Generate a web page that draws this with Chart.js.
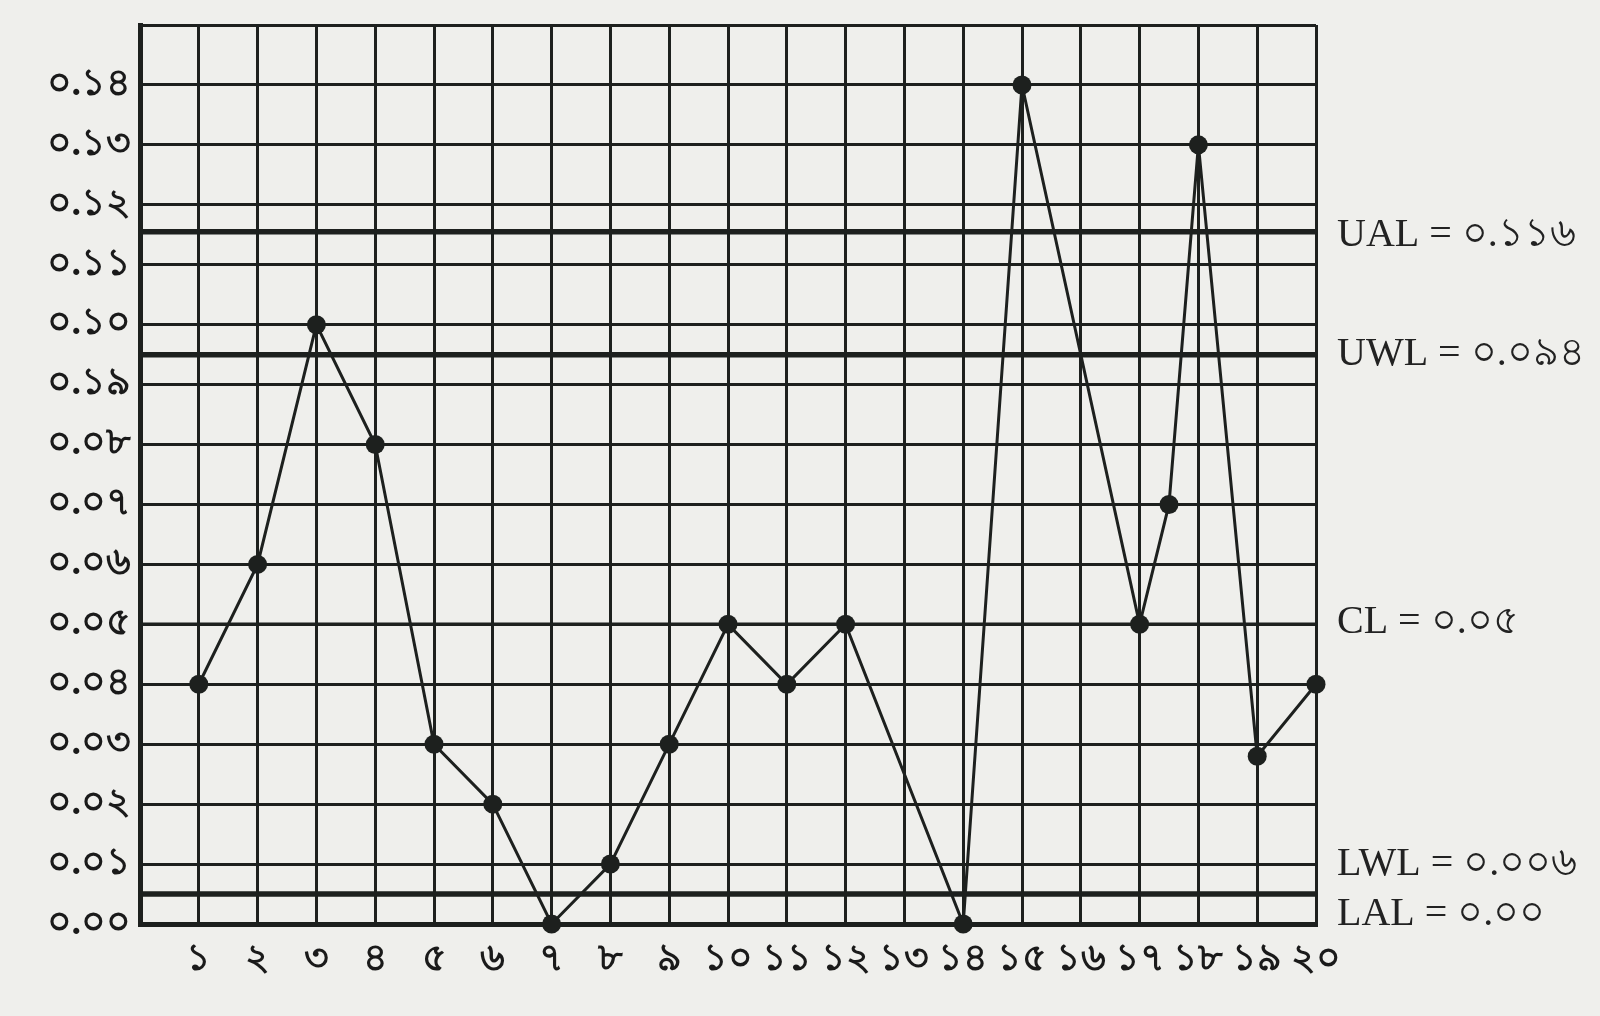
<!DOCTYPE html>
<html>
<head>
<meta charset="utf-8">
<script src="https://cdn.jsdelivr.net/npm/chart.js@4/dist/chart.umd.min.js"></script>
<style>
    html, body { margin: 0; padding: 0; background: #efefec; }
    #wrap { width: 1600px; height: 1016px; }
</style>
</head>
<body>
<div id="wrap"><canvas id="controlChart" width="1600" height="1016"></canvas></div>
<script>
"use strict";

// sample number (x) and fraction defective (y), as plotted
const sampleNo = [1, 2, 3, 4, 5, 6, 7, 8, 9, 10, 11, 12, 14, 15, 17, 17.5, 18, 19, 20];
const proportion = [0.04, 0.06, 0.10, 0.08, 0.03, 0.02, 0.00, 0.01, 0.03, 0.05, 0.04, 0.05, 0.00, 0.14, 0.05, 0.07, 0.13, 0.028, 0.04];

const xTickLabels = ["১", "২", "৩", "৪", "৫", "৬", "৭", "৮", "৯", "১০", "১১", "১২", "১৩", "১৪", "১৫", "১৬", "১৭", "১৮", "১৯", "২০"];
const yTickLabels = ["০.০০", "০.০১", "০.০২", "০.০৩", "০.০৪", "০.০৫", "০.০৬", "০.০৭", "০.০৮", "০.১৯", "০.১০", "০.১১", "০.১২", "০.১৩", "০.১৪"];

// control / warning limits
const limitNames = ["UAL", "UWL", "CL", "LWL", "LAL"];
const limitValues = [0.1155, 0.095, 0.05, 0.005, 0];
const limitText = ["০.১১৬", "০.০৯৪", "০.০৫", "০.০০৬", "০.০০"];

const ink = "#1d201e";
const xMin = 0;
const xMax = 20;

const limitLabels = {
    id: "limitLabels",
    afterDraw(chart) {
        const y = chart.scales.y;
        const ctx = chart.ctx;
        const nudge = { LWL: -30, LAL: -10, UAL: 4, CL: -2 };
        ctx.save();
        ctx.fillStyle = "#222";
        ctx.font = '40px "Liberation Serif", "DejaVu Serif", serif';
        ctx.textBaseline = "middle";
        ctx.textAlign = "left";
        limitNames.forEach((name, i) => {
            const py = y.getPixelForValue(limitValues[i]) + (nudge[name] || 0);
            ctx.fillText(`${name} = ${limitText[i]}`, chart.chartArea.right + 21, py);
        });
        ctx.restore();
    }
};

function buildLimitDatasets() {
    return limitNames.map((name, i) => ({
        label: name,
        data: [{ x: xMin, y: limitValues[i] }, { x: xMax, y: limitValues[i] }],
        borderColor: ink,
        borderWidth: name === "CL" || name === "LAL" ? 3.5 : 5.5,
        pointRadius: 0,
        order: 2
    }));
}

document.addEventListener("DOMContentLoaded", () => {
    const ctx = document.getElementById("controlChart");
    const tickFont = { size: 38, weight: "bold", family: '"Liberation Serif", serif' };

    new Chart(ctx, {
        type: "line",
        data: {
            datasets: [
                {
                    label: "p",
                    data: sampleNo.map((x, i) => ({ x: x, y: proportion[i] })),
                    borderColor: ink,
                    borderWidth: 3,
                    backgroundColor: ink,
                    pointRadius: 9.5,
                    pointBorderWidth: 0,
                    tension: 0,
                    clip: false,
                    order: 0
                },
                ...buildLimitDatasets()
            ]
        },
        options: {
            responsive: false,
            animation: false,
            devicePixelRatio: 1,
            layout: { padding: { left: 0, right: 284, top: 25, bottom: 0 } },
            plugins: {
                legend: { display: false },
                tooltip: { enabled: false }
            },
            scales: {
                x: {
                    type: "linear",
                    min: xMin,
                    max: xMax,
                    ticks: {
                        stepSize: 1,
                        autoSkip: false,
                        maxRotation: 0,
                        padding: 13,
                        color: "#1a1a1a",
                        font: tickFont,
                        callback: value => value === 0 ? "" : (xTickLabels[value - 1] ?? "")
                    },
                    grid: { color: ink, lineWidth: 3, drawTicks: false },
                    border: { display: true, color: ink, width: 5 },
                    afterFit: scale => { scale.height = 92; }
                },
                y: {
                    min: 0,
                    max: 0.15,
                    ticks: {
                        stepSize: 0.01,
                        autoSkip: false,
                        padding: 9,
                        color: "#1a1a1a",
                        font: tickFont,
                        callback: value => yTickLabels[Math.round(value * 100)] ?? ""
                    },
                    grid: { color: ink, lineWidth: 3, drawTicks: false },
                    border: { display: true, color: ink, width: 5 },
                    afterFit: scale => {
                        scale.width = 140;
                        scale.paddingTop = 0;
                        scale.paddingBottom = 0;
                    }
                }
            }
        },
        plugins: [limitLabels]
    });
});
</script>
</body>
</html>
